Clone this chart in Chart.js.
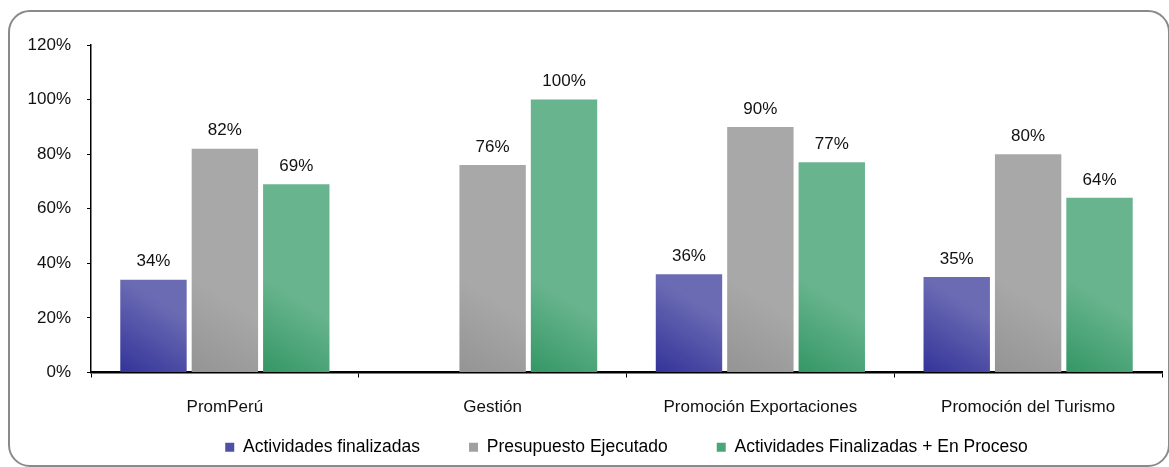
<!DOCTYPE html>
<html>
<head>
<meta charset="utf-8">
<script src="https://cdn.jsdelivr.net/npm/chart.js@4"></script>
<style>
  html, body { margin: 0; padding: 0; background: #fff; }
  #wrap { position: relative; width: 1169px; height: 467px; }
  #frame {
    position: absolute; left: 8px; top: 10px; width: 1158px; height: 453px;
    border: 2px solid #8a8a8a; border-radius: 22px;
  }
  canvas { position: absolute; left: 0; top: 0; }
</style>
</head>
<body>
<div id="wrap">
  <div id="frame"></div>
  <canvas id="chart" width="1169" height="467"></canvas>
</div>
<script>
"use strict";

const categories = ["PromPerú", "Gestión", "Promoción Exportaciones", "Promoción del Turismo"];
const seriesNames = ["Actividades finalizadas", "Presupuesto Ejecutado", "Actividades Finalizadas + En Proceso"];
const actividadesFinalizadas = [34, null, 36, 35];
const presupuestoEjecutado = [82, 76, 90, 80];
const finalizadasEnProceso = [69, 100, 77, 64];
const yTicks = [0, 20, 40, 60, 80, 100, 120];

const darkColors = ["#333399", "#949494", "#349764"];
const lightColors = ["#6b6bb4", "#a8a8a8", "#68b48e"];
const legendColors = ["#4f4fa8", "#a0a0a0", "#4aa577"];

const catPct = 0.8;
const barPct = 0.93;
const font = "'Liberation Sans', Arial, sans-serif";

// diagonal gradient per bar, dark at the bottom-left corner
function barFill(ctx)
{
    const chart = ctx.chart;
    const i = ctx.datasetIndex;
    if (!chart.chartArea || ctx.type !== "data") {
        return lightColors[i];
    }
    const xs = chart.scales.x;
    const ys = chart.scales.y;
    const center = xs.getPixelForValue(ctx.dataIndex);
    const slot = (xs.width / categories.length) * catPct / 3;
    const w = slot * barPct;
    const left = center + (i - 1) * slot - w / 2;
    const base = ys.getPixelForValue(0);
    const g = chart.ctx.createLinearGradient(left, base, left + w, base - w * 1.6);
    g.addColorStop(0, darkColors[i]);
    g.addColorStop(0.65, lightColors[i]);
    g.addColorStop(1, lightColors[i]);
    return g;
}

const valueLabels = {
    id: "valueLabels",
    afterDatasetsDraw(chart) {
        const c = chart.ctx;
        c.save();
        c.font = "17px " + font;
        c.fillStyle = "#111";
        c.textAlign = "center";
        c.textBaseline = "middle";
        chart.data.datasets.forEach((ds, di) => {
            chart.getDatasetMeta(di).data.forEach((el, idx) => {
                const v = ds.data[idx];
                if (v === null) return;
                c.fillText(v + "%", el.x, el.y - 18);
            });
        });
        c.restore();
    }
};

const seriesData = [actividadesFinalizadas, presupuestoEjecutado, finalizadasEnProceso];

new Chart(document.getElementById("chart"), {
    type: "bar",
    data: {
        labels: categories,
        datasets: seriesData.map((d, i) => ({
            label: seriesNames[i],
            data: d,
            backgroundColor: barFill,
            borderWidth: 0,
            categoryPercentage: catPct,
            barPercentage: barPct
        }))
    },
    options: {
        responsive: false,
        animation: false,
        devicePixelRatio: 1,
        layout: { padding: { left: 0, right: 7, top: 45, bottom: 1 } },
        plugins: {
            tooltip: { enabled: false },
            legend: {
                position: "bottom",
                fullSize: false,
                labels: {
                    boxWidth: 9,
                    boxHeight: 9,
                    padding: 14,
                    color: "#111",
                    font: { family: font, size: 17.5 },
                    // em spaces widen the gap after the first two entries
                    generateLabels: chart => seriesNames.map((n, i) => ({
                        text: i < 2 ? n + "\u2003\u2003" : n,
                        fillStyle: legendColors[i],
                        strokeStyle: legendColors[i],
                        lineWidth: 0,
                        datasetIndex: i
                    }))
                }
            }
        },
        scales: {
            x: {
                grid: { drawOnChartArea: false, color: "#000", tickLength: 5, offset: true },
                border: { color: "#000", width: 2.5 },
                ticks: { color: "#111", font: { family: font, size: 17 }, padding: 20 },
                afterFit: s => { s.height = 52; }
            },
            y: {
                min: 0,
                max: 120,
                afterBuildTicks: s => { s.ticks = yTicks.map(v => ({ value: v })); },
                grid: { drawOnChartArea: false, color: "#000", tickLength: 4 },
                border: { color: "#000", width: 1.5 },
                ticks: { color: "#111", font: { family: font, size: 17 }, padding: 16, callback: v => v + "%" },
                afterFit: s => { s.width = 91; }
            }
        }
    },
    plugins: [valueLabels]
});
</script>
</body>
</html>
